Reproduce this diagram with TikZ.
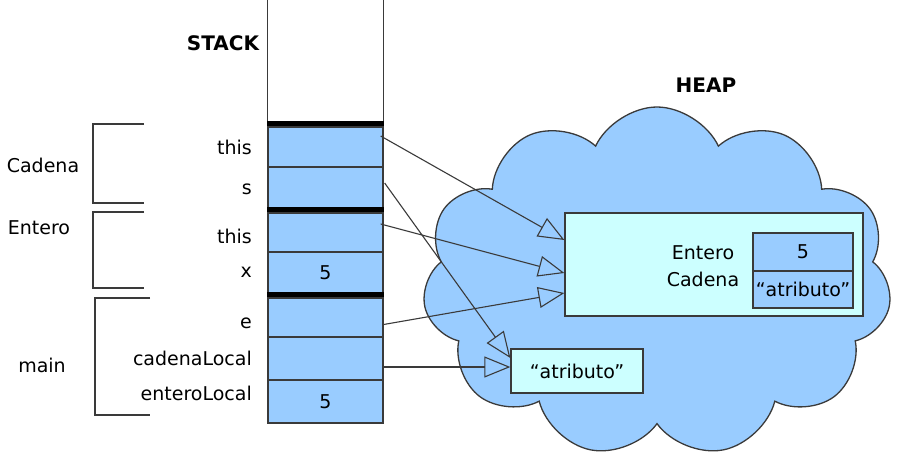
\documentclass[tikz,border=0pt]{standalone}
\usepackage{fontspec}
\setmainfont{DejaVu Sans}
\usepackage{tikz}
\usetikzlibrary{positioning,arrows.meta,shapes.symbols}
\definecolor{stackblue}{HTML}{99CCFF}
\definecolor{objcyan}{HTML}{CCFFFF}
\definecolor{edge}{HTML}{3A3A3A}
\tikzset{
  refarrow/.style={-{Triangle[open, length=26pt, width=21pt]}, line width=1.1pt, draw=edge},
  cell/.style={draw=edge, line width=1.3pt, fill=stackblue, minimum width=115pt, inner sep=0pt},
  framebar/.style={line width=5pt, black},
  wall/.style={line width=1.6pt, draw=edge},
  bracket/.style={line width=1.5pt, draw=edge},
  varlabel/.style={anchor=east, inner sep=0pt},
  objbox/.style={draw=edge, line width=1.3pt, fill=objcyan, inner sep=0pt},
  heapcloud/.style={cloud, draw=edge, line width=1.3pt, fill=stackblue, cloud puffs=11, cloud puff arc=130, aspect=1.34, inner sep=0pt, minimum width=469pt, minimum height=350pt},
  title/.style={font=\fontsize{20}{22}\selectfont\bfseries}
}

\begin{document}
\begin{tikzpicture}[x=1pt, y=-1pt, >=Latex, every node/.style={font=\fontsize{19}{22}\selectfont}]
      \useasboundingbox (0,0) rectangle (899,466);
      % heap
      \node[heapcloud] (heap) at (657,282) {};
      \node[title] (heaplbl) at (706,85) {HEAP};
      % stack cells
      \node[cell, minimum height=40pt] (c1) at (325.5,147) {};
      \node[cell, minimum height=41pt] (c2) at (325.5,187.5) {};
      \node[cell, minimum height=39pt] (c3) at (325.5,232.5) {};
      \node[cell, minimum height=41pt] (c4) at (325.5,272.5) {5};
      \node[cell, minimum height=39pt] (c5) at (325.5,317.5) {};
      \node[cell, minimum height=43pt] (c6) at (325.5,358.5) {};
      \node[cell, minimum height=43pt] (c7) at (325.5,401.5) {5};
      \draw[wall] (c1.north west) -- ++(0,-130);
      \draw[wall] (c1.north east) -- ++(0,-130);
      \draw[framebar] ([yshift=2.5pt]c1.north west) -- ([yshift=2.5pt]c1.north east);
      \draw[framebar] ([yshift=2.5pt]c3.north west) -- ([yshift=2.5pt]c3.north east);
      \draw[framebar] ([yshift=2.5pt]c5.north west) -- ([yshift=2.5pt]c5.north east);
      \node[title] (stacklbl) at (223,43) {STACK};
      % variable names
      \node[varlabel] (vthis1) at (252,147) {this};
      \node[varlabel] (vs) at (252,189) {s};
      \node[varlabel] (vthis2) at (252,236) {this};
      \node[varlabel] (vx) at (252,272) {x};
      \node[varlabel] (ve) at (252,323) {e};
      \node[varlabel] (vcad) at (252,358) {cadenaLocal};
      \node[varlabel] (vent) at (252,393) {enteroLocal};
      % frames
      \draw[bracket] (144,124) -- (93,124) -- (93,203) -- (144,203);
      \draw[bracket] (144,212) -- (93,212) -- (93,288) -- (144,288);
      \draw[bracket] (150,298) -- (95,298) -- (95,415) -- (150,415);
      \node (fcad) at (43,165) {Cadena};
      \node (fent) at (39,228) {Entero};
      \node (fmain) at (42,365) {main};
      % objects in heap
      \node[objbox, minimum width=298pt, minimum height=103pt] (obj) at (714,264.5) {};
      \node[objbox, fill=stackblue, minimum width=100pt, minimum height=38pt] (f1) at (803,252) {5};
      \node[objbox, fill=stackblue, minimum width=100pt, minimum height=37pt] (f2) at (803,289.5) {“atributo”};
      \node (oent) at (703,253) {Entero};
      \node (ocad) at (703,279) {Cadena};
      \node[objbox, minimum width=132pt, minimum height=44pt] (str) at (577,371) {“atributo”};
      % references
      \draw[refarrow] ([xshift=-3pt, yshift=11pt]c1.east) -- ([yshift=24.5pt]obj.west);
      \draw[refarrow] ([xshift=1pt, yshift=4.5pt]c2.east) -- ([yshift=13pt]str.west);
      \draw[refarrow] ([xshift=-3pt, yshift=8.5pt]c3.east) -- ([yshift=-8.5pt]obj.west);
      \draw[refarrow] ([yshift=-7pt]c5.east) -- ([yshift=-28.5pt]obj.west);
      \draw[refarrow] ([yshift=-8.5pt]c6.east) -- ([yshift=4pt]str.west);
    \end{tikzpicture}
\end{document}
